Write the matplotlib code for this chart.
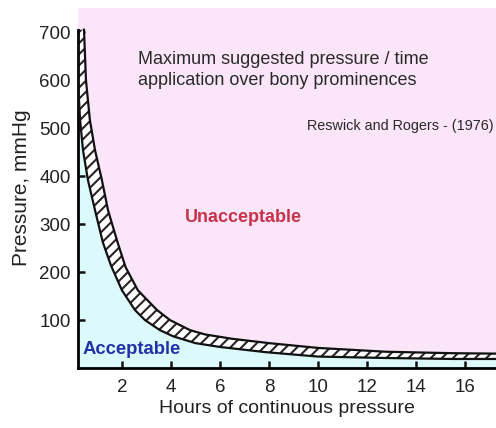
import matplotlib
matplotlib.use("Agg")
import matplotlib.pyplot as plt

plt.rcParams['font.family'] = ['Liberation Sans', 'DejaVu Sans']
plt.rcParams['hatch.linewidth'] = 1.5

# outer (upper) edge of the limit band: hours vs mmHg
upper_hours = [0.45, 0.53, 0.69, 0.9, 1.18, 1.43, 1.82, 2.15, 2.65, 3.43, 3.96, 4.78, 5.4, 6.5, 8.0, 10.0, 12.8, 15.5, 17.5]
upper_mmhg = [705, 600, 517, 454, 392, 329, 262, 210, 162, 121, 100, 79, 70, 61, 52, 42, 34, 31, 30]

# inner (lower) edge of the limit band
lower_hours = [0.18, 0.2, 0.29, 0.41, 0.61, 0.9, 1.22, 1.55, 2.0, 2.53, 2.94, 3.55, 4.1, 5.0, 6.0, 7.9, 10.0, 12.8, 15.5, 17.5]
lower_mmhg = [705, 600, 517, 454, 392, 329, 262, 214, 162, 121, 100, 79, 66, 52, 44, 33, 24, 21, 19, 19]

x_ticks = [2, 4, 6, 8, 10, 12, 14, 16]
y_ticks = [100, 200, 300, 400, 500, 600, 700]

pink = '#fae6f8'
cyan = '#dcfafc'

fig = plt.figure(figsize=(4.96, 4.28), dpi=100)
ax = fig.add_axes([0.157, 0.140, 0.843, 0.841])
ax.set_facecolor(pink)

ax.fill_between(lower_hours, 0, lower_mmhg, color=cyan, lw=0, zorder=1)

band_x = upper_hours + lower_hours[::-1]
band_y = upper_mmhg + lower_mmhg[::-1]
ax.fill(band_x, band_y, facecolor='white', edgecolor='#2a2226', linewidth=0,
        hatch='///', zorder=2)
ax.plot(upper_hours, upper_mmhg, color='#111111', lw=1.6, zorder=3)
ax.plot(lower_hours, lower_mmhg, color='#111111', lw=1.6, zorder=3)

ax.set_xlim(0.2, 17.27)
ax.set_ylim(0, 750)
ax.set_xticks(x_ticks)
ax.set_yticks(y_ticks)
ax.tick_params(direction='in', length=5, width=1.8, colors='#111111',
               labelcolor='#222222', labelsize=13.5)
ax.tick_params(axis='x', pad=8)
ax.tick_params(axis='y', pad=5)

for s in ['top', 'right']:
    ax.spines[s].set_visible(False)
ax.spines['left'].set_bounds(0, 705)
ax.spines['left'].set_linewidth(2)
ax.spines['bottom'].set_linewidth(2)

ax.set_xlabel('Hours of continuous pressure', fontsize=14, color='#222222', labelpad=3)
ax.set_ylabel('Pressure, mmHg', fontsize=15, color='#222222', labelpad=6)

fig.text(138 / 496, 1 - 70 / 428, 'Maximum suggested pressure / time\napplication over bony prominences',
         fontsize=13, color='#2a2a2a', va='center', ha='left', linespacing=1.3)
fig.text(307 / 496, 1 - 126 / 428, 'Reswick and Rogers - (1976)', fontsize=10.4,
         color='#2a2a2a', va='center', ha='left')
fig.text(185 / 496, 1 - 217 / 428, 'Unacceptable', fontsize=13, fontweight='bold',
         color='#c8324a', va='center', ha='left')
fig.text(83 / 496, 1 - 349 / 428, 'Acceptable', fontsize=13.3, fontweight='bold',
         color='#2233a8', va='center', ha='left')

fig.savefig('out.png', dpi=100)
